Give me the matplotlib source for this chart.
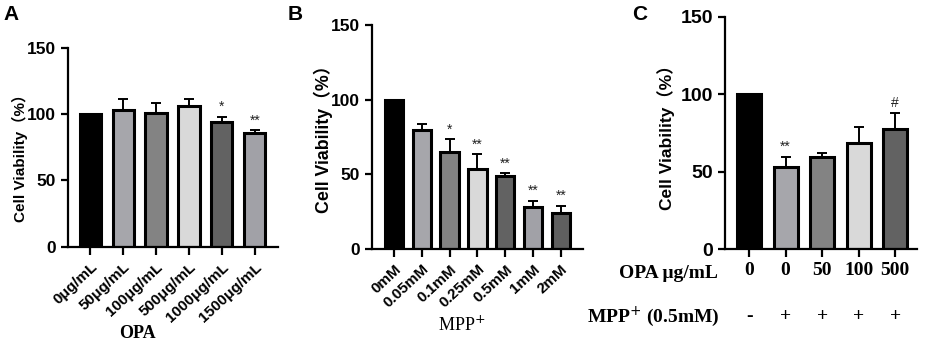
import matplotlib
matplotlib.use('Agg')
import matplotlib.pyplot as plt
from matplotlib.transforms import blended_transform_factory

SANS = ['Liberation Sans', 'Noto Sans CJK SC', 'DejaVu Sans']
SERIF = ['Liberation Serif', 'DejaVu Serif']
plt.rcParams['font.family'] = SANS

# panel A: OPA alone
a_labels = ['0μg/mL', '50μg/mL', '100μg/mL', '500μg/mL', '1000μg/mL', '1500μg/mL']
a_values = [100, 103, 100.5, 106.3, 94.3, 86]
a_errors = [0, 8, 8, 5.2, 3.7, 2]
a_marks = ['', '', '', '', '*', '**']
a_colors = ['#000000', '#a6a6ab', '#838383', '#d9d9d9', '#626262', '#a1a1a7']

# panel B: MPP+ alone
b_labels = ['0mM', '0.05mM', '0.1mM', '0.25mM', '0.5mM', '1mM', '2mM']
b_values = [100, 79.7, 65.2, 53.6, 49.1, 27.9, 23.9]
b_errors = [0, 4, 8.2, 9.8, 1.6, 4.2, 5.1]
b_marks = ['', '', '*', '**', '**', '**', '**']
b_colors = ['#000000', '#a6a6ab', '#838383', '#d9d9d9', '#626262', '#a1a1a7', '#5f5f5f']

# panel C: OPA + MPP+ (0.5mM)
c_opa = ['0', '0', '50', '100', '500']
c_mpp = ['-', '+', '+', '+', '+']
c_values = [100, 53.2, 59.7, 68.3, 77.4]
c_errors = [0, 6.5, 2.6, 10.8, 10.3]
c_marks = ['', '**', '', '', '#']
c_colors = ['#000000', '#a6a6ab', '#838383', '#d9d9d9', '#626262']


def bar_panel(ax, values, errors, colors, marks, xlim, width):
    xs = list(range(len(values)))
    ax.bar(xs, values, width=width, color=colors, edgecolor='black',
           linewidth=2.2, zorder=2)
    ax.errorbar(xs, values, yerr=[[0] * len(errors), errors], fmt='none',
                ecolor='black', elinewidth=1.4, capsize=3.6, capthick=1.4,
                zorder=1)
    for x, v, e, m in zip(xs, values, errors, marks):
        if m:
            ax.text(x, v + e + 2, m, ha='center', va='bottom', fontsize=10,
                    color='#222222')
    ax.set_xlim(*xlim)
    ax.set_ylim(0, 150)
    ax.set_yticks([0, 50, 100, 150])
    for s in ['top', 'right']:
        ax.spines[s].set_visible(False)
    for s in ['left', 'bottom']:
        ax.spines[s].set_linewidth(1.6)
    ax.tick_params(axis='x', length=6, width=1.6)
    ax.tick_params(axis='y', length=5, width=1.6, labelsize=12.5)
    for t in ax.get_yticklabels():
        t.set_fontweight('bold')
    ax.set_xticks(xs)


fig = plt.figure(figsize=(9.41, 3.49), dpi=100)

axA = fig.add_axes([0.0723, 0.2931, 0.2231, 0.5702])
bar_panel(axA, a_values, a_errors, a_colors, a_marks, (-0.67, 5.7), 0.64)
axA.set_xticklabels(a_labels, rotation=43, ha='right', rotation_mode='anchor',
                    fontsize=11, fontweight='bold')
axA.set_ylabel('Cell Viability（%）', fontsize=11, fontweight='bold')
axA.yaxis.set_label_coords(-0.19, 0.466)
fig.text(137 / 941, 1 - 333 / 349, 'OPA', ha='center', va='center',
         family=SERIF, fontsize=13, fontweight='bold')

axB = fig.add_axes([0.3953, 0.2865, 0.2243, 0.6419])
bar_panel(axB, b_values, b_errors, b_colors, b_marks, (-0.79, 6.8), 0.66)
axB.set_xticklabels(b_labels, rotation=43, ha='right', rotation_mode='anchor',
                    fontsize=11, fontweight='bold')
axB.set_ylabel('Cell Viability（%）', fontsize=12.8, fontweight='bold')
axB.yaxis.set_label_coords(-0.185, 0.51)
fig.text(462 / 941, 1 - 325 / 349, 'MPP$^{+}$', ha='center', va='center',
         family=SERIF, fontsize=13)

axC = fig.add_axes([0.7705, 0.2865, 0.2040, 0.6648])
bar_panel(axC, c_values, c_errors, c_colors, c_marks, (-0.66, 4.6), 0.66)
axC.set_xticklabels(c_opa, family=SERIF, fontsize=14, fontweight='bold')
axC.tick_params(axis='y', labelsize=14)
axC.set_ylabel('Cell Viability（%）', fontsize=12.5, fontweight='bold')
axC.yaxis.set_label_coords(-0.26, 0.5)
trans = blended_transform_factory(axC.transData, axC.transAxes)
for i, s in enumerate(c_mpp):
    axC.text(i, -0.29, s, transform=trans, ha='center', va='center',
             family=SERIF, fontsize=14, fontweight='bold')
fig.text(718 / 941, 1 - 273 / 349, 'OPA μg/mL', ha='right', va='center',
         family=SERIF, fontsize=14, fontweight='bold')
fig.text(720 / 941, 1 - 317 / 349, 'MPP$^{+}$ (0.5mM)', ha='right', va='center',
         family=SERIF, fontsize=14, fontweight='bold')

for letter, x in [('A', 0.004), ('B', 0.306), ('C', 0.672)]:
    fig.text(x, 0.985, letter, ha='left', va='top', fontsize=15, fontweight='bold')

fig.savefig('out.png', dpi=100)
